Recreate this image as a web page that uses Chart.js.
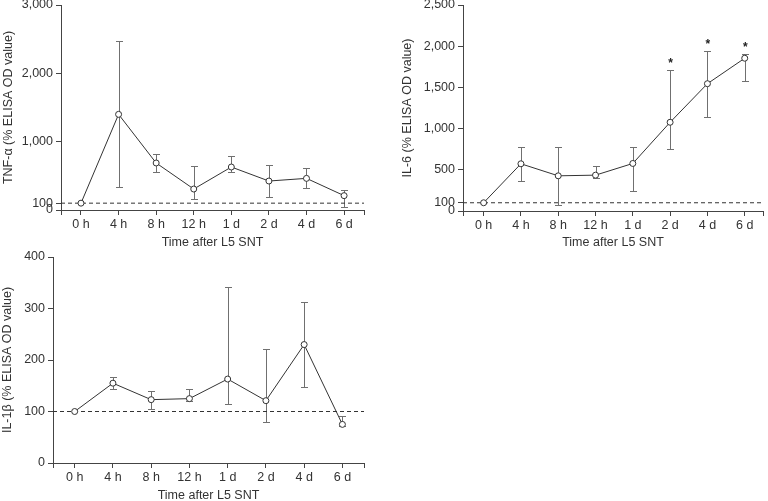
<!DOCTYPE html>
<html><head><meta charset="utf-8">
<script src="https://cdn.jsdelivr.net/npm/chart.js@4/dist/chart.umd.min.js"></script>
<style>
html,body{margin:0;padding:0;background:#fff;}
#wrap{position:relative;width:768px;height:501px;overflow:hidden;background:#fff;}
canvas{position:absolute;}
</style></head><body>
<div id="wrap">
<canvas id="c1" width="384" height="250" style="left:0;top:0"></canvas>
<canvas id="c2" width="384" height="250" style="left:384px;top:0"></canvas>
<canvas id="c3" width="384" height="253" style="left:0;top:250px"></canvas>
</div>
<script>
// ---- data ----
const categories = ['0 h','4 h','8 h','12 h','1 d','2 d','4 d','6 d'];
const baseline = 100;

const tnfMean = [100, 1400, 688, 307, 629, 424, 463, 210];
const tnfHigh = [null, 2468, 824, 649, 785, 663, 620, 293];
const tnfLow  = [null, 337, 561, 161, 561, 190, 322, 39];
const tnfTicks = [0, 100, 1000, 2000, 3000];

const il6Mean = [100, 573, 427, 435, 577, 1077, 1545, 1854];
const il6High = [null, 772, 776, 541, 780, 1711, 1947, 1911];
const il6Low  = [null, 370, 77, 402, 244, 748, 1138, 1581];
const il6Sig  = [false, false, false, false, false, true, true, true];
const il6Ticks = [0, 100, 500, 1000, 1500, 2000, 2500];

const il1bMean = [100, 155, 123, 125, 163, 121, 230, 75];
const il1bHigh = [null, 167, 140, 144, 342, 221, 313, 91];
const il1bLow  = [null, 144, 104, 121, 115, 79, 147, 72];
const il1bTicks = [0, 100, 200, 300, 400];

const xTitle = 'Time after L5 SNT';
const FONT = {family: '"Liberation Sans", Arial, Helvetica, sans-serif', size: 12.5};
const TXT = '#333';
const AX = '#444';

function makePanel(id, cfg) {
  const sig = cfg.sig || [];
  const errPlugin = {
    id: 'err_' + id,
    beforeDatasetsDraw(chart) {
      const {ctx, scales: {x, y}} = chart;
      ctx.save();
      ctx.strokeStyle = '#707070';
      ctx.lineWidth = 1;
      cfg.high.forEach((hi, i) => {
        const lo = cfg.low[i];
        if (hi == null) return;
        const px = Math.round(x.getPixelForValue(i)) + 0.5;
        const yh = Math.round(y.getPixelForValue(hi)) + 0.5;
        const yl = Math.round(y.getPixelForValue(lo)) + 0.5;
        ctx.beginPath();
        ctx.moveTo(px, yh); ctx.lineTo(px, yl);
        ctx.moveTo(px - 3.5, yh); ctx.lineTo(px + 3.5, yh);
        ctx.moveTo(px - 3.5, yl); ctx.lineTo(px + 3.5, yl);
        ctx.stroke();
      });
      ctx.restore();
    },
    afterDatasetsDraw(chart) {
      const {ctx, scales: {x, y}} = chart;
      ctx.save();
      ctx.fillStyle = '#222';
      ctx.font = 'bold 12px ' + FONT.family;
      ctx.textAlign = 'center';
      ctx.textBaseline = 'middle';
      sig.forEach((s, i) => {
        if (!s) return;
        const px = x.getPixelForValue(i);
        const py = y.getPixelForValue(cfg.high[i]) - 6;
        ctx.fillText('*', px + 0.5, py);
      });
      ctx.restore();
    }
  };
  return new Chart(document.getElementById(id), {
    type: 'line',
    data: {
      datasets: [
        {
          data: cfg.mean.map((v, i) => ({x: i, y: v})),
          borderColor: '#333', borderWidth: 1, tension: 0,
          pointStyle: 'circle', pointRadius: 3, pointBackgroundColor: '#fff',
          pointBorderColor: '#333', pointBorderWidth: 1
        },
        {
          data: [{x: cfg.xMin, y: baseline}, {x: cfg.xMax, y: baseline}],
          borderColor: '#333', borderWidth: 1, borderDash: [4, 3], pointRadius: 0
        }
      ]
    },
    options: {
      responsive: false, animation: false, devicePixelRatio: 1,
      layout: {padding: cfg.padding},
      plugins: {legend: {display: false}, tooltip: {enabled: false}},
      scales: {
        x: {
          type: 'linear', min: cfg.xMin, max: cfg.xMax,
          afterBuildTicks: s => { s.ticks = [cfg.xMin, ...categories.map((c, i) => i), cfg.xMax].map(v => ({value: v})); },
          ticks: {autoSkip: false, maxRotation: 0, padding: 2, font: FONT, color: TXT,
            callback: v => Number.isInteger(v) ? categories[v] : ''},
          grid: {drawOnChartArea: false, drawTicks: true, tickLength: 5, color: AX},
          border: {color: AX, width: 1},
          title: {display: true, text: xTitle, font: FONT, color: TXT, padding: {top: 0, bottom: 0}},
          afterFit: s => { s.height = cfg.xHeight; s.paddingLeft = 0; s.paddingRight = 0; }
        },
        y: {
          type: 'linear', min: 0, max: cfg.yMax,
          afterBuildTicks: s => { s.ticks = cfg.yTicks.map(v => ({value: v})); },
          ticks: {autoSkip: false, padding: 3, font: FONT, color: TXT,
            callback: v => v.toLocaleString('en-US')},
          grid: {drawOnChartArea: false, drawTicks: true, tickLength: 5, color: AX},
          border: {color: AX, width: 1},
          title: {display: true, text: cfg.yTitle, font: FONT, color: TXT, padding: {top: cfg.yTitlePad, bottom: 0}},
          afterFit: s => { s.width = cfg.yWidth; s.paddingTop = 0; s.paddingBottom = 0; }
        }
      }
    },
    plugins: [errPlugin]
  });
}

makePanel('c1', {
  mean: tnfMean, high: tnfHigh, low: tnfLow, yTicks: tnfTicks, yMax: 3000,
  yTitle: 'TNF-\u03b1 (% ELISA OD value)', xMin: -0.532, xMax: 7.53,
  yWidth: 61, xHeight: 40, padding: {top: 5, right: 20, left: 0, bottom: 0}, yTitlePad: 1.5
});
makePanel('c2', {
  mean: il6Mean, high: il6High, low: il6Low, sig: il6Sig, yTicks: il6Ticks, yMax: 2500,
  yTitle: 'IL-6 (% ELISA OD value)', xMin: -0.553, xMax: 7.49,
  yWidth: 79, xHeight: 39, padding: {top: 5, right: 4, left: 0, bottom: 0}, yTitlePad: 16.5
});
makePanel('c3', {
  mean: il1bMean, high: il1bHigh, low: il1bLow, yTicks: il1bTicks, yMax: 400,
  yTitle: 'IL-1\u03b2 (% ELISA OD value)', xMin: -0.567, xMax: 7.565,
  yWidth: 53, xHeight: 40, padding: {top: 7, right: 20, left: 0, bottom: 0}, yTitlePad: 0.5
});
</script>
</body></html>
